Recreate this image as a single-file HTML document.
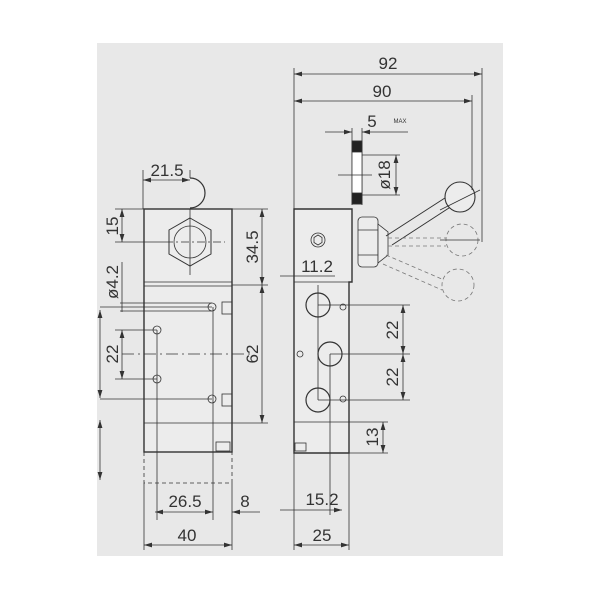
<!DOCTYPE html>
<html><head><style>body{margin:0;background:#fff}svg{display:block}</style></head><body>
<svg width="600" height="600" viewBox="0 0 600 600" xmlns="http://www.w3.org/2000/svg" font-family="Liberation Sans, DejaVu Sans, sans-serif">
<defs><marker id="a" viewBox="0 0 10 6" refX="10" refY="3" markerWidth="10" markerHeight="6" orient="auto-start-reverse"><path d="M0,0L10,3L0,6z" fill="#333"/></marker></defs>
<rect x="97" y="43" width="406" height="513" fill="#e8e8e8"/>
<g stroke="#333" stroke-width="0.8" fill="none">
<!-- LEFT VIEW body -->
<rect x="144" y="209" width="88" height="243" fill="#ececec" stroke-width="1.4"/>
<line x1="144" y1="282" x2="232" y2="282"/><line x1="144" y1="286" x2="232" y2="286"/>
<line x1="144" y1="423" x2="232" y2="423"/>
<rect x="216" y="442" width="14" height="9"/>
<path d="M144,452V483H232V452" stroke-dasharray="4,3"/>
<path d="M190,178A15,15 0 0 1 190,208" stroke-width="1.2" fill="#ececec"/>
<polygon points="190,218 211,230 211,254 190,266 169,254 169,230" stroke-width="1"/>
<circle cx="190" cy="242" r="16"/>
<line x1="165" y1="242" x2="225" y2="242" stroke-dasharray="8,3,2,3"/>
<line x1="190" y1="209" x2="190" y2="275"/>
<line x1="122" y1="354" x2="250" y2="354" stroke-dasharray="12,4,2,4"/>
<circle cx="212" cy="307" r="4"/><circle cx="157" cy="330" r="4"/><circle cx="157" cy="379" r="4"/><circle cx="212" cy="399" r="4"/>
<rect x="222" y="302" width="10" height="12"/><rect x="222" y="394" width="10" height="12"/>
<line x1="157" y1="330" x2="157" y2="520"/><line x1="213" y1="307" x2="213" y2="520"/>
<!-- left dims -->
<line x1="143" y1="170" x2="143" y2="209"/><line x1="190" y1="170" x2="190" y2="178"/>
<line x1="143" y1="180" x2="190" y2="180" marker-start="url(#a)" marker-end="url(#a)"/>
<line x1="115" y1="209" x2="144" y2="209"/><line x1="115" y1="242" x2="165" y2="242"/>
<line x1="122" y1="209" x2="122" y2="242" marker-start="url(#a)" marker-end="url(#a)"/>
<line x1="232" y1="209" x2="268" y2="209"/><line x1="232" y1="285" x2="268" y2="285"/><line x1="232" y1="423" x2="268" y2="423"/>
<line x1="262" y1="209" x2="262" y2="285" marker-start="url(#a)" marker-end="url(#a)"/>
<line x1="262" y1="285" x2="262" y2="423" marker-start="url(#a)" marker-end="url(#a)"/>
<line x1="122" y1="262" x2="122" y2="312"/>
<line x1="120" y1="303" x2="212" y2="303"/><line x1="120" y1="311" x2="212" y2="311"/>
<line x1="115" y1="330" x2="157" y2="330"/><line x1="115" y1="379" x2="157" y2="379"/>
<line x1="122" y1="330" x2="122" y2="379" marker-start="url(#a)" marker-end="url(#a)"/>
<line x1="100" y1="307" x2="212" y2="307"/><line x1="100" y1="399" x2="212" y2="399"/>
<line x1="100" y1="310" x2="100" y2="398" marker-start="url(#a)" marker-end="url(#a)"/>
<line x1="100" y1="420" x2="100" y2="480" marker-start="url(#a)" marker-end="url(#a)"/>
<line x1="155" y1="512" x2="213" y2="512" marker-start="url(#a)" marker-end="url(#a)"/>
<line x1="232" y1="483" x2="232" y2="550"/><line x1="144" y1="483" x2="144" y2="550"/>
<line x1="232" y1="512" x2="260" y2="512" marker-start="url(#a)"/>
<line x1="144" y1="545" x2="232" y2="545" marker-start="url(#a)" marker-end="url(#a)"/>
<!-- RIGHT VIEW -->
<path d="M294,209H352V282H349V453H294Z" fill="#ececec" stroke-width="1.4"/>
<line x1="294" y1="282" x2="349" y2="282"/>
<line x1="294" y1="422" x2="349" y2="422"/>
<rect x="295" y="443" width="11" height="8"/>
<circle cx="318" cy="240" r="7"/><polygon points="318,235 322,237.5 322,242.5 318,245 314,242.5 314,237.5"/>
<circle cx="318" cy="305" r="12" stroke-width="1.2"/><circle cx="330" cy="354" r="12" stroke-width="1.2"/><circle cx="318" cy="400" r="12" stroke-width="1.2"/>
<circle cx="343" cy="307" r="3"/><circle cx="300" cy="354" r="3"/><circle cx="343" cy="399" r="3"/>
<line x1="318" y1="285" x2="318" y2="400"/><line x1="318" y1="305" x2="410" y2="305"/><line x1="330" y1="354" x2="410" y2="354"/><line x1="318" y1="400" x2="410" y2="400"/>
<line x1="330" y1="354" x2="330" y2="515"/>
<!-- nut and lever -->
<rect x="358" y="217" width="20" height="50" rx="4" fill="#ececec"/>
<line x1="358" y1="230" x2="378" y2="230"/><line x1="358" y1="255" x2="378" y2="255"/>
<polygon points="378,224 388,232 388,255 378,263" fill="#ececec"/>
<path d="M386,236L448,196M392,245L452,206" stroke-width="1"/>
<circle cx="460" cy="197" r="15" fill="#ececec" stroke-width="1.1"/>
<line x1="440" y1="210" x2="480" y2="190"/>
<g stroke-dasharray="4,3" stroke="#777">
<circle cx="462" cy="240" r="16"/><circle cx="458" cy="285" r="16"/>
<path d="M388,238H446M388,246H446M386,255L444,280M383,264L442,290"/>
</g>
<line x1="440" y1="240" x2="480" y2="240"/>
<!-- right dims -->
<line x1="294" y1="68" x2="294" y2="209"/><line x1="482" y1="68" x2="482" y2="242"/><line x1="472" y1="95" x2="472" y2="190"/>
<line x1="294" y1="74" x2="482" y2="74" marker-start="url(#a)" marker-end="url(#a)"/>
<line x1="294" y1="101" x2="472" y2="101" marker-start="url(#a)" marker-end="url(#a)"/>
<line x1="352" y1="128" x2="352" y2="205"/><line x1="362" y1="128" x2="362" y2="205"/>
<line x1="325" y1="132" x2="352" y2="132" marker-end="url(#a)"/><line x1="362" y1="132" x2="408" y2="132" marker-start="url(#a)"/>
<rect x="352" y="141" width="10" height="63" fill="#fff"/>
<rect x="352" y="141" width="10" height="11" fill="#222"/><rect x="352" y="193" width="10" height="11" fill="#222"/>
<line x1="338" y1="175" x2="372" y2="175"/>
<line x1="362" y1="155" x2="400" y2="155"/><line x1="362" y1="195" x2="400" y2="195"/>
<line x1="396" y1="155" x2="396" y2="195" marker-start="url(#a)" marker-end="url(#a)"/>
<line x1="280" y1="276" x2="335" y2="276"/>
<line x1="403" y1="305" x2="403" y2="354" marker-start="url(#a)" marker-end="url(#a)"/>
<line x1="403" y1="354" x2="403" y2="400" marker-start="url(#a)" marker-end="url(#a)"/>
<line x1="349" y1="422" x2="388" y2="422"/><line x1="349" y1="453" x2="388" y2="453"/>
<line x1="383" y1="422" x2="383" y2="453" marker-start="url(#a)" marker-end="url(#a)"/>
<line x1="294" y1="453" x2="294" y2="550"/><line x1="349" y1="453" x2="349" y2="550"/>
<line x1="280" y1="510" x2="342" y2="510" marker-end="url(#a)"/>
<line x1="294" y1="545" x2="349" y2="545" marker-start="url(#a)" marker-end="url(#a)"/>
</g>
<g fill="#333" font-size="17" text-anchor="middle">
<text x="167" y="176">21.5</text>
<text transform="translate(118,226) rotate(-90)">15</text>
<text transform="translate(258,247) rotate(-90)">34.5</text>
<text transform="translate(118,282) rotate(-90)">ø4.2</text>
<text transform="translate(118,354) rotate(-90)">22</text>
<text transform="translate(258,354) rotate(-90)">62</text>
<text x="185" y="507">26.5</text><text x="245" y="507">8</text><text x="187" y="541">40</text>
<text x="388" y="69">92</text><text x="382" y="97">90</text><text x="372" y="127">5</text>
<text x="400" y="123" font-size="6">MAX</text>
<text transform="translate(390,175) rotate(-90)">ø18</text>
<text x="317" y="272">11.2</text>
<text transform="translate(398,330) rotate(-90)">22</text>
<text transform="translate(398,377) rotate(-90)">22</text>
<text transform="translate(378,437) rotate(-90)">13</text>
<text x="322" y="505">15.2</text><text x="322" y="541">25</text>
</g>
</svg>
</body></html>
